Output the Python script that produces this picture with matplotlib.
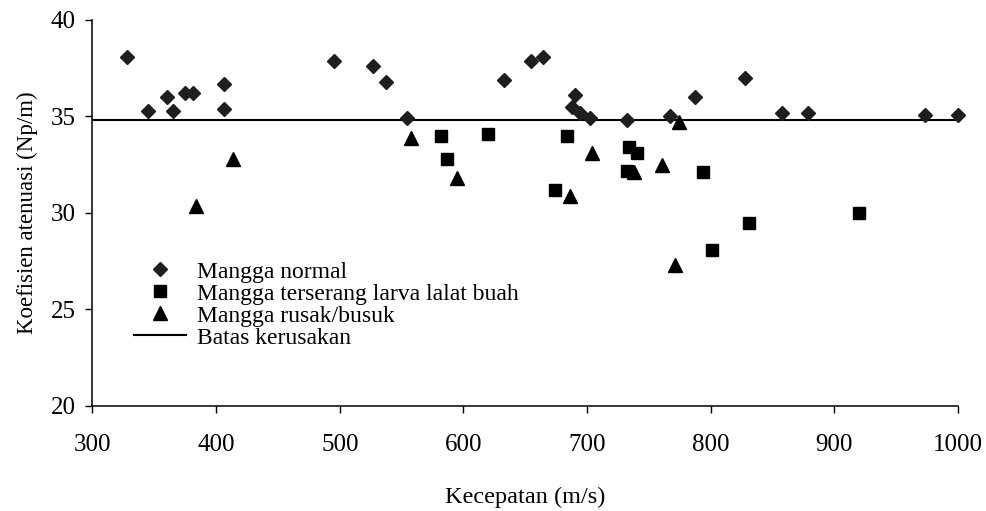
import matplotlib
matplotlib.use("Agg")
import matplotlib.pyplot as plt

plt.rcParams['font.family'] = ['Liberation Serif', 'DejaVu Serif']

# Mangga normal
normal_x = [328, 345, 360, 365, 375, 381, 406, 406, 495, 527, 537, 554, 633, 655, 664,
            690, 688, 694, 702, 732, 767, 787, 828, 858, 879, 973, 1000]
normal_y = [38.1, 35.3, 36.0, 35.3, 36.2, 36.2, 36.7, 35.4, 37.9, 37.6, 36.8, 34.9, 36.9, 37.9, 38.1,
            36.1, 35.5, 35.2, 34.9, 34.8, 35.0, 36.0, 37.0, 35.2, 35.2, 35.1, 35.1]

# Mangga terserang larva lalat buah
larva_x = [582, 587, 620, 684, 674, 732, 734, 740, 794, 801, 831, 920]
larva_y = [34.0, 32.8, 34.1, 34.0, 31.2, 32.2, 33.4, 33.1, 32.1, 28.1, 29.5, 30.0]

# Mangga rusak/busuk
rusak_x = [384, 414, 558, 595, 686, 704, 738, 761, 771, 774]
rusak_y = [30.35, 32.8, 33.9, 31.8, 30.9, 33.1, 32.1, 32.5, 27.3, 34.7]

batas = 34.8
labels = ['Mangga normal', 'Mangga terserang larva lalat buah',
          'Mangga rusak/busuk', 'Batas kerusakan']

fig = plt.figure(figsize=(9.87, 5.11), dpi=100)
ax = fig.add_axes([0.0937, 0.2055, 0.8769, 0.7554])

ax.plot(normal_x, normal_y, 'D', color='#1e1e1e', ms=7, mec='#1e1e1e',
        label=labels[0], clip_on=False, zorder=3)
ax.plot(larva_x, larva_y, 's', color='black', ms=8.6,
        label=labels[1], clip_on=False, zorder=3)
ax.plot(rusak_x, rusak_y, '^', color='black', ms=10,
        label=labels[2], clip_on=False, zorder=3)
ax.plot([300, 1000], [batas, batas], '-', color='black', lw=1.5,
        label=labels[3], zorder=2)

ax.set_xlim(300, 1000)
ax.set_ylim(20, 40)
ax.set_xticks(range(300, 1001, 100))
ax.set_yticks(range(20, 41, 5))

for s in ['top', 'right']:
    ax.spines[s].set_visible(False)
for s in ['left', 'bottom']:
    ax.spines[s].set_linewidth(1.1)

ax.tick_params(axis='x', direction='out', length=5, width=1, labelsize=18, pad=15)
ax.tick_params(axis='y', direction='out', length=5, width=1, labelsize=18, pad=7)

ax.set_xlabel('Kecepatan (m/s)', fontsize=17.5, labelpad=22)
ax.set_ylabel('Koefisien atenuasi (Np/m)', fontsize=16.5, labelpad=9)

ax.legend(loc='upper left', bbox_to_anchor=(0.048, 0.375), frameon=False,
          fontsize=17, numpoints=1, handlelength=2.2, handletextpad=0.45,
          labelspacing=0.02, borderpad=0, borderaxespad=0)

fig.savefig('out.png', dpi=100)
